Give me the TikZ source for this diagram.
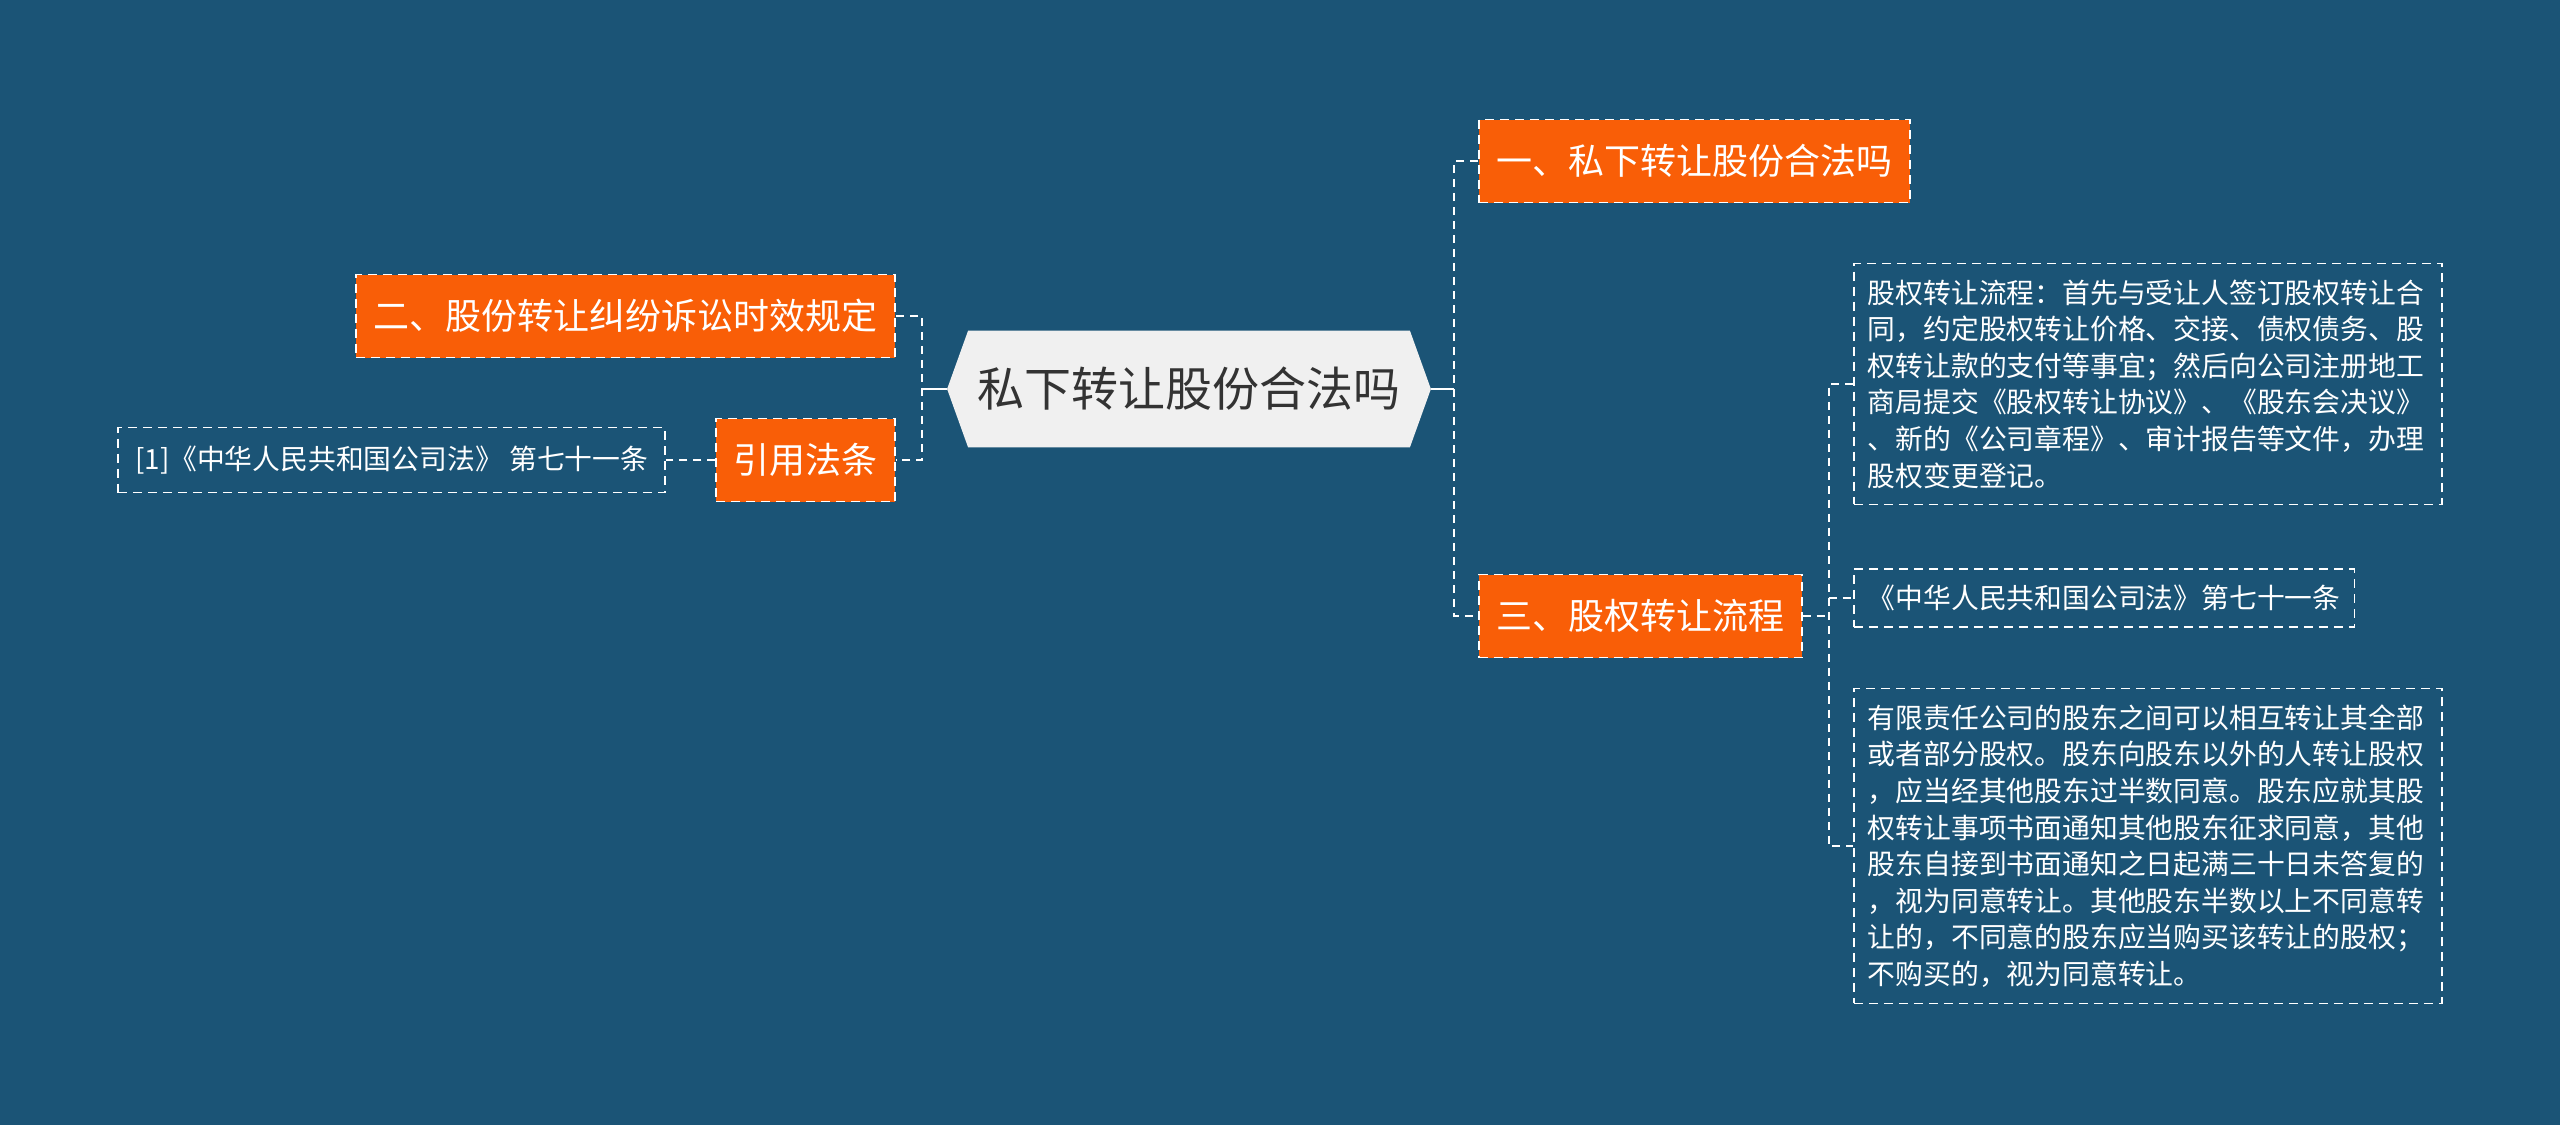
\documentclass[tikz,border=0pt]{standalone}
\usepackage{fontspec}
\setmainfont{Noto Sans CJK SC}
\usepackage{xcolor}
\usepackage{tikz}
\usetikzlibrary{positioning,backgrounds}
\definecolor{canvas}{HTML}{1B5476}
\definecolor{topic}{HTML}{F95E07}
\definecolor{rootfill}{HTML}{F0F0F0}
\definecolor{ink}{HTML}{333333}

\begin{document}
\begin{tikzpicture}[
  x=0.5pt, y=-0.5pt,
  rootnode/.style={minimum width=241.5pt, minimum height=58pt, inner sep=0pt, text=ink, font=\fontsize{23.5}{28}\selectfont},
  branch/.style={fill=topic, draw=white, dash pattern=on 4.5pt off 3pt, line width=0.8pt, text=white, minimum height=41.5pt, inner xsep=8.75pt, font=\fontsize{18}{22}\selectfont},
  note/.style={draw=white, dash pattern=on 4.5pt off 3pt, line width=0.8pt, text=white, inner xsep=7pt, inner ysep=8pt, font=\fontsize{13.9}{18.3}\selectfont},
  link/.style={draw=white, line width=1pt, dash pattern=on 4pt off 3pt},
  stem/.style={draw=white, line width=1.2pt}
]
  \useasboundingbox (0,0) rectangle (2560,1125);

  \node[rootnode] (root) at (1189,389) {私下转让股份合法吗};

  % right side
  \node[branch, anchor=west] (n1) at (1478,161) {一、私下转让股份合法吗};
  \node[branch, anchor=west] (n3) at (1478,616) {三、股权转让流程};
  \node[note, anchor=west, text width=280pt, align=left] (d1) at (1853,384)
    {股权转让流程：首先与受让人签订股权转让合\\同，约定股权转让价格、交接、债权债务、股\\权转让款的支付等事宜；然后向公司注册地工\\商局提交《股权转让协议》、《股东会决议》\\、新的《公司章程》、审计报告等文件，办理\\股权变更登记。};
  \node[note, anchor=west] (d2) at (1853,598) {《中华人民共和国公司法》第七十一条};
  \node[note, anchor=west, text width=280pt, align=left] (d3) at (1853,846)
    {有限责任公司的股东之间可以相互转让其全部\\或者部分股权。股东向股东以外的人转让股权\\，应当经其他股东过半数同意。股东应就其股\\权转让事项书面通知其他股东征求同意，其他\\股东自接到书面通知之日起满三十日未答复的\\，视为同意转让。其他股东半数以上不同意转\\让的，不同意的股东应当购买该转让的股权；\\不购买的，视为同意转让。};

  % left side
  \node[branch, anchor=east] (n2) at (896,316) {二、股份转让纠纷诉讼时效规定};
  \node[branch, anchor=east] (yy) at (896,460) {引用法条};
  \node[note, anchor=east, minimum width=273.5pt, minimum height=32.5pt] (cite) at (666,460) {[1]《中华人民共和国公司法》 第七十一条};

  \coordinate[right=11.5pt of root] (rj);
  \coordinate[left=12.5pt of root] (lj);
  \coordinate[right=13pt of n3] (sj);

  \draw[stem] (root.east) -- (rj);
  \draw[link] (n1.west) -| (rj) |- (n3.west);
  \draw[stem] (root.west) -- (lj);
  \draw[link] (n2.east) -| (lj) |- (yy.east);
  \draw[link] (yy.west) -- (cite.east);
  \draw[link] (n3.east) -- (sj);
  \draw[link] (d1.west) -| (sj) |- (d3.west);
  \draw[link] (sj |- d2.west) -- (d2.west);

  \begin{scope}[on background layer]
    \fill[canvas] (0,0) rectangle (2560,1125);
    \fill[rootfill] (root.west) -- ([xshift=10.5pt]root.north west) -- ([xshift=-10.5pt]root.north east)
      -- (root.east) -- ([xshift=-10.5pt]root.south east) -- ([xshift=10.5pt]root.south west) -- cycle;
  \end{scope}
\end{tikzpicture}
\end{document}
